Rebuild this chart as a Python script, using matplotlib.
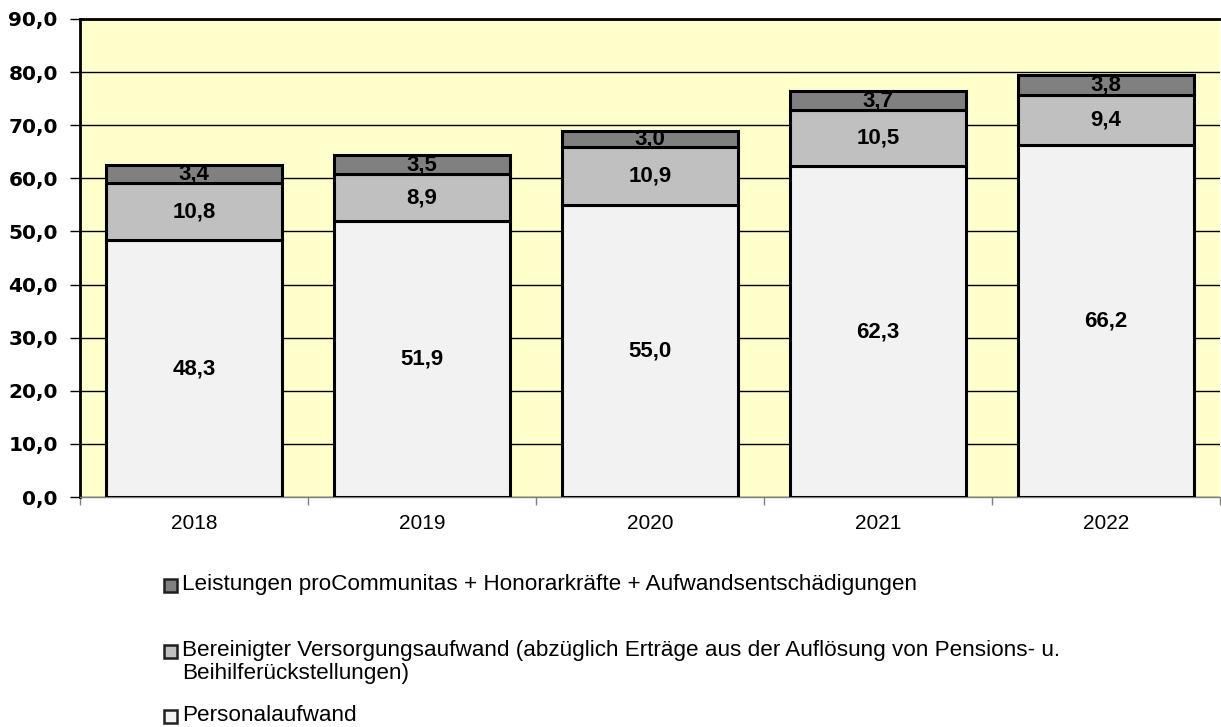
import matplotlib
matplotlib.use("Agg")
import matplotlib.pyplot as plt
from matplotlib.patches import Rectangle
import numpy as np

years = ["2018", "2019", "2020", "2021", "2022"]
personal = [48.3, 51.9, 55.0, 62.3, 66.2]
versorgung = [10.8, 8.9, 10.9, 10.5, 9.4]
leistungen = [3.4, 3.5, 3.0, 3.7, 3.8]
series = [personal, versorgung, leistungen]
series_names = [
    "Personalaufwand",
    "Bereinigter Versorgungsaufwand (abzüglich Erträge aus der Auflösung von Pensions- u.\nBeihilferückstellungen)",
    "Leistungen proCommunitas + Honorarkräfte + Aufwandsentschädigungen",
]
colors = ["#F2F2F2", "#C0C0C0", "#808080"]
yticks = np.arange(0, 91, 10)

W, H = 1221, 727
fig = plt.figure(figsize=(W / 100, H / 100), dpi=100)
ax = fig.add_axes([80 / W, 1 - 497 / H, 1140 / W, (497 - 19) / H])
ax.set_facecolor("#FFFFCC")

x = np.arange(len(years))
bottom = np.zeros(len(years))
for vals, col in zip(series, colors):
    v = np.array(vals)
    ax.bar(x, v, bottom=bottom, width=0.77, color=col, edgecolor="black",
           linewidth=2.2, zorder=3)
    for xi, b, val in zip(x, bottom, v):
        ax.text(xi, b + val / 2, f"{val:.1f}".replace(".", ","), ha="center",
                va="center", fontsize=16, fontweight="bold",
                family="Liberation Sans", zorder=4)
    bottom = bottom + v

ax.set_xlim(-0.5, len(years) - 0.5)
ax.set_ylim(0, 90)
ax.set_yticks(yticks)
ax.set_yticklabels([f"{t:.1f}".replace(".", ",") for t in yticks],
                   fontsize=14.5, fontweight="bold", family="DejaVu Sans")
ax.yaxis.grid(True, color="black", linewidth=1, zorder=1)
ax.set_axisbelow(True)
ax.tick_params(axis="y", length=7, width=1, color="black", pad=9)

ax.set_xticks(x)
ax.set_xticklabels(years, fontsize=15, family="Liberation Sans")
ax.set_xticks(np.arange(-0.5, len(years), 1), minor=True)
ax.tick_params(axis="x", which="major", length=0, pad=12)
ax.tick_params(axis="x", which="minor", length=6, width=1, color="#808080")

for s in ["left", "top"]:
    ax.spines[s].set_linewidth(2)
    ax.spines[s].set_color("black")
ax.spines["right"].set_visible(False)
ax.spines["bottom"].set_color("#808080")
ax.spines["bottom"].set_linewidth(1)

# legend (manual, Excel-like layout)
legend_items = [(2, 585), (1, 651), (0, 716)]
for idx, ycen in legend_items:
    fig.patches.append(Rectangle((164 / W, 1 - (ycen + 6.5) / H), 13 / W, 13 / H,
                                 transform=fig.transFigure, facecolor=colors[idx],
                                 edgecolor="#202020", linewidth=1.8))
    fig.text(182 / W, 1 - (ycen - 11) / H, series_names[idx], ha="left", va="top",
             fontsize=16.2, family="Liberation Sans", linespacing=1.1)

fig.savefig("out.png", dpi=100)
